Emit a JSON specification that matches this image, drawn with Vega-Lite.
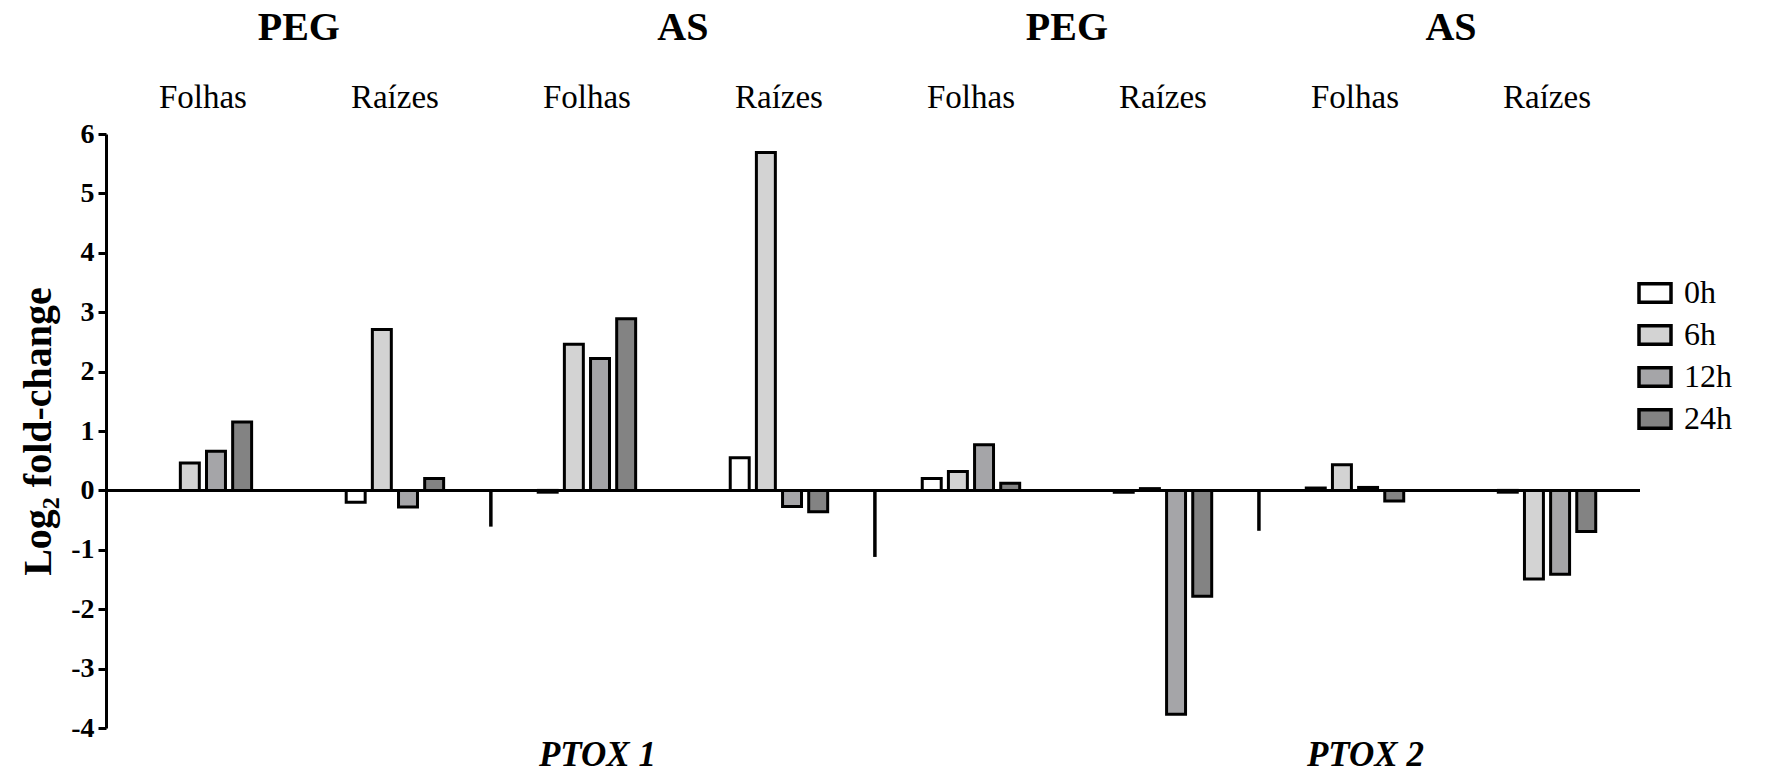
{
  "$schema": "https://vega.github.io/schema/vega-lite/v6.json",
  "width": 1534,
  "height": 594,
  "autosize": "none",
  "padding": {"left": 106, "top": 134, "right": 126, "bottom": 49},
  "background": "white",
  "config": {"view": {"stroke": null}, "font": "Liberation Serif"},
  "datasets": {
    "expressao": [
      {"gene": "PTOX 1", "estresse": "PEG", "tecido": "Folhas", "grupo": "P1-PEG-Folhas", "tempo": "0h", "log2fc": 0},
      {"gene": "PTOX 1", "estresse": "PEG", "tecido": "Folhas", "grupo": "P1-PEG-Folhas", "tempo": "6h", "log2fc": 0.46},
      {"gene": "PTOX 1", "estresse": "PEG", "tecido": "Folhas", "grupo": "P1-PEG-Folhas", "tempo": "12h", "log2fc": 0.66},
      {"gene": "PTOX 1", "estresse": "PEG", "tecido": "Folhas", "grupo": "P1-PEG-Folhas", "tempo": "24h", "log2fc": 1.15},
      {"gene": "PTOX 1", "estresse": "PEG", "tecido": "Raízes", "grupo": "P1-PEG-Raízes", "tempo": "0h", "log2fc": -0.2},
      {"gene": "PTOX 1", "estresse": "PEG", "tecido": "Raízes", "grupo": "P1-PEG-Raízes", "tempo": "6h", "log2fc": 2.71},
      {"gene": "PTOX 1", "estresse": "PEG", "tecido": "Raízes", "grupo": "P1-PEG-Raízes", "tempo": "12h", "log2fc": -0.28},
      {"gene": "PTOX 1", "estresse": "PEG", "tecido": "Raízes", "grupo": "P1-PEG-Raízes", "tempo": "24h", "log2fc": 0.2},
      {"gene": "PTOX 1", "estresse": "AS", "tecido": "Folhas", "grupo": "P1-AS-Folhas", "tempo": "0h", "log2fc": -0.03},
      {"gene": "PTOX 1", "estresse": "AS", "tecido": "Folhas", "grupo": "P1-AS-Folhas", "tempo": "6h", "log2fc": 2.46},
      {"gene": "PTOX 1", "estresse": "AS", "tecido": "Folhas", "grupo": "P1-AS-Folhas", "tempo": "12h", "log2fc": 2.22},
      {"gene": "PTOX 1", "estresse": "AS", "tecido": "Folhas", "grupo": "P1-AS-Folhas", "tempo": "24h", "log2fc": 2.89},
      {"gene": "PTOX 1", "estresse": "AS", "tecido": "Raízes", "grupo": "P1-AS-Raízes", "tempo": "0h", "log2fc": 0.55},
      {"gene": "PTOX 1", "estresse": "AS", "tecido": "Raízes", "grupo": "P1-AS-Raízes", "tempo": "6h", "log2fc": 5.69},
      {"gene": "PTOX 1", "estresse": "AS", "tecido": "Raízes", "grupo": "P1-AS-Raízes", "tempo": "12h", "log2fc": -0.27},
      {"gene": "PTOX 1", "estresse": "AS", "tecido": "Raízes", "grupo": "P1-AS-Raízes", "tempo": "24h", "log2fc": -0.36},
      {"gene": "PTOX 2", "estresse": "PEG", "tecido": "Folhas", "grupo": "P2-PEG-Folhas", "tempo": "0h", "log2fc": 0.2},
      {"gene": "PTOX 2", "estresse": "PEG", "tecido": "Folhas", "grupo": "P2-PEG-Folhas", "tempo": "6h", "log2fc": 0.32},
      {"gene": "PTOX 2", "estresse": "PEG", "tecido": "Folhas", "grupo": "P2-PEG-Folhas", "tempo": "12h", "log2fc": 0.77},
      {"gene": "PTOX 2", "estresse": "PEG", "tecido": "Folhas", "grupo": "P2-PEG-Folhas", "tempo": "24h", "log2fc": 0.12},
      {"gene": "PTOX 2", "estresse": "PEG", "tecido": "Raízes", "grupo": "P2-PEG-Raízes", "tempo": "0h", "log2fc": -0.03},
      {"gene": "PTOX 2", "estresse": "PEG", "tecido": "Raízes", "grupo": "P2-PEG-Raízes", "tempo": "6h", "log2fc": 0.03},
      {"gene": "PTOX 2", "estresse": "PEG", "tecido": "Raízes", "grupo": "P2-PEG-Raízes", "tempo": "12h", "log2fc": -3.77},
      {"gene": "PTOX 2", "estresse": "PEG", "tecido": "Raízes", "grupo": "P2-PEG-Raízes", "tempo": "24h", "log2fc": -1.78},
      {"gene": "PTOX 2", "estresse": "AS", "tecido": "Folhas", "grupo": "P2-AS-Folhas", "tempo": "0h", "log2fc": 0.04},
      {"gene": "PTOX 2", "estresse": "AS", "tecido": "Folhas", "grupo": "P2-AS-Folhas", "tempo": "6h", "log2fc": 0.43},
      {"gene": "PTOX 2", "estresse": "AS", "tecido": "Folhas", "grupo": "P2-AS-Folhas", "tempo": "12h", "log2fc": 0.05},
      {"gene": "PTOX 2", "estresse": "AS", "tecido": "Folhas", "grupo": "P2-AS-Folhas", "tempo": "24h", "log2fc": -0.18},
      {"gene": "PTOX 2", "estresse": "AS", "tecido": "Raízes", "grupo": "P2-AS-Raízes", "tempo": "0h", "log2fc": -0.03},
      {"gene": "PTOX 2", "estresse": "AS", "tecido": "Raízes", "grupo": "P2-AS-Raízes", "tempo": "6h", "log2fc": -1.49},
      {"gene": "PTOX 2", "estresse": "AS", "tecido": "Raízes", "grupo": "P2-AS-Raízes", "tempo": "12h", "log2fc": -1.41},
      {"gene": "PTOX 2", "estresse": "AS", "tecido": "Raízes", "grupo": "P2-AS-Raízes", "tempo": "24h", "log2fc": -0.69}
    ],
    "divisorias": [
      {"grupo": "P1-PEG-Raízes", "log2fc": -0.61},
      {"grupo": "P1-AS-Raízes", "log2fc": -1.12},
      {"grupo": "P2-PEG-Raízes", "log2fc": -0.68}
    ],
    "tecidos": [
      {"grupo": "P1-PEG-Folhas", "tecido": "Folhas"},
      {"grupo": "P1-PEG-Raízes", "tecido": "Raízes"},
      {"grupo": "P1-AS-Folhas", "tecido": "Folhas"},
      {"grupo": "P1-AS-Raízes", "tecido": "Raízes"},
      {"grupo": "P2-PEG-Folhas", "tecido": "Folhas"},
      {"grupo": "P2-PEG-Raízes", "tecido": "Raízes"},
      {"grupo": "P2-AS-Folhas", "tecido": "Folhas"},
      {"grupo": "P2-AS-Raízes", "tecido": "Raízes"}
    ],
    "estresses": [
      {"grupo": "P1-PEG-Folhas", "estresse": "PEG"},
      {"grupo": "P1-AS-Folhas", "estresse": "AS"},
      {"grupo": "P2-PEG-Folhas", "estresse": "PEG"},
      {"grupo": "P2-AS-Folhas", "estresse": "AS"}
    ],
    "genes": [
      {"grupo": "P1-AS-Folhas", "gene": "PTOX 1"},
      {"grupo": "P2-AS-Folhas", "gene": "PTOX 2"}
    ]
  },
  "layer": [
    {
      "data": {"name": "expressao"},
      "mark": {"type": "bar", "stroke": "black", "strokeWidth": 3, "strokeJoin": "miter"},
      "encoding": {
        "x": {
          "field": "grupo",
          "type": "nominal",
          "axis": null,
          "scale": {
            "type": "band",
            "domain": ["P1-PEG-Folhas", "P1-PEG-Raízes", "P1-AS-Folhas", "P1-AS-Raízes", "P2-PEG-Folhas", "P2-PEG-Raízes", "P2-AS-Folhas", "P2-AS-Raízes"],
            "paddingInner": 0.4551,
            "paddingOuter": 0.222,
            "align": 0.523,
            "round": false
          }
        },
        "xOffset": {
          "field": "tempo",
          "type": "nominal",
          "scale": {"domain": ["0h", "6h", "12h", "24h"], "paddingInner": 0.275, "paddingOuter": 0.1375, "round": false}
        },
        "y": {
          "field": "log2fc",
          "type": "quantitative",
          "scale": {"domain": [-4, 6], "nice": false, "zero": false},
          "axis": {
            "title": "Log₂ fold-change",
            "titleFont": "Liberation Serif",
            "titleFontSize": 40,
            "titleFontWeight": "bold",
            "titleColor": "black",
            "titlePadding": 12,
            "values": [-4, -3, -2, -1, 0, 1, 2, 3, 4, 5, 6],
            "labelExpr": "'' + datum.value",
            "grid": false,
            "domainColor": "black",
            "domainWidth": 3,
            "tickColor": "black",
            "tickWidth": 3,
            "tickSize": 8,
            "labelFont": "Liberation Serif",
            "labelFontSize": 28,
            "labelFontWeight": "bold",
            "labelColor": "black",
            "labelPadding": 4
          }
        },
        "color": {
          "field": "tempo",
          "type": "nominal",
          "scale": {"domain": ["0h", "6h", "12h", "24h"], "range": ["#ffffff", "#d3d3d3", "#a5a5a8", "#838383"]},
          "legend": {
            "orient": "none",
            "legendX": 1531,
            "legendY": 141,
            "title": null,
            "symbolType": "M-1,-0.58H1V0.58H-1Z",
            "symbolSize": 1024,
            "symbolStrokeColor": "black",
            "symbolStrokeWidth": 3.5,
            "symbolOpacity": 1,
            "labelFont": "Liberation Serif",
            "labelFontSize": 32,
            "labelColor": "black",
            "labelOffset": 11,
            "rowPadding": 7
          }
        }
      }
    },
    {
      "data": {"values": [{}]},
      "mark": {"type": "rule", "color": "black", "strokeWidth": 3},
      "encoding": {"y": {"datum": 0, "type": "quantitative"}}
    },
    {
      "data": {"name": "divisorias"},
      "mark": {"type": "rule", "color": "black", "strokeWidth": 3.5},
      "encoding": {
        "x": {"field": "grupo", "type": "nominal", "scale": {"type": "band"}, "bandPosition": 1.417},
        "y": {"field": "log2fc", "type": "quantitative"},
        "y2": {"datum": 0}
      }
    },
    {
      "data": {"name": "tecidos"},
      "mark": {"type": "text", "font": "Liberation Serif", "fontSize": 33, "color": "black", "baseline": "middle", "align": "center"},
      "encoding": {
        "x": {"field": "grupo", "type": "nominal", "scale": {"type": "band"}, "bandPosition": 0.5},
        "y": {"datum": 6.6, "type": "quantitative"},
        "text": {"field": "tecido"}
      }
    },
    {
      "data": {"name": "estresses"},
      "mark": {"type": "text", "font": "Liberation Serif", "fontSize": 40, "fontWeight": "bold", "color": "black", "baseline": "middle", "align": "center"},
      "encoding": {
        "x": {"field": "grupo", "type": "nominal", "scale": {"type": "band"}, "bandPosition": 1.417},
        "y": {"datum": 7.78, "type": "quantitative"},
        "text": {"field": "estresse"}
      }
    },
    {
      "data": {"name": "genes"},
      "mark": {"type": "text", "font": "Liberation Serif", "fontSize": 35, "fontWeight": "bold", "fontStyle": "italic", "color": "black", "baseline": "middle", "align": "center"},
      "encoding": {
        "x": {"field": "grupo", "type": "nominal", "scale": {"type": "band"}, "bandPosition": 0.6},
        "y": {"datum": -4.46, "type": "quantitative"},
        "text": {"field": "gene"}
      }
    }
  ]
}
